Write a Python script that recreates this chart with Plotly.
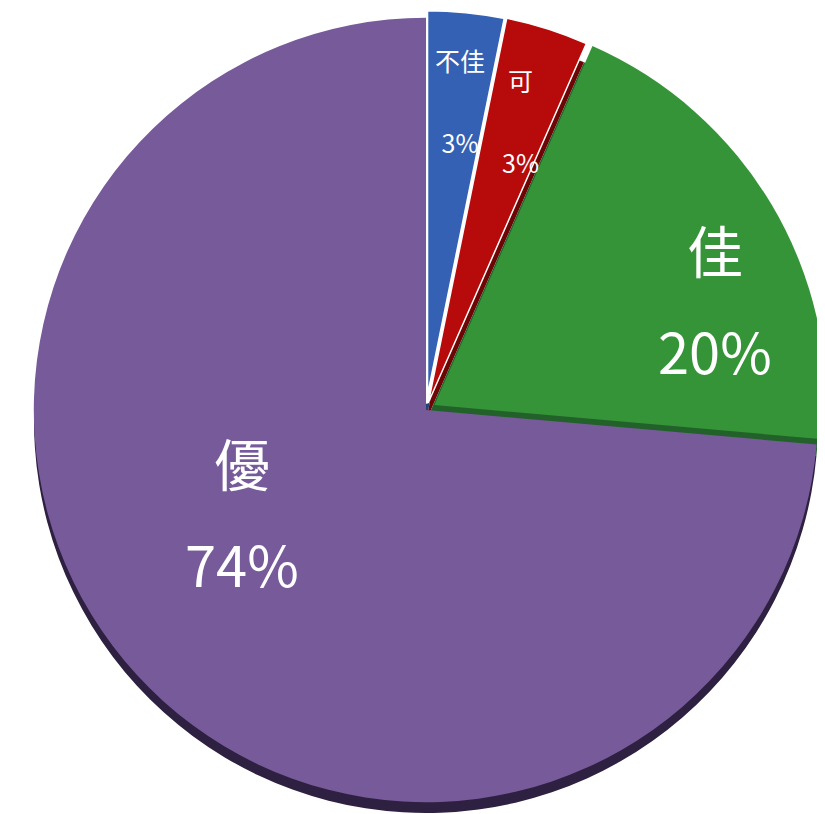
import math
import plotly.graph_objects as go

# ---- data ----
labels = ["不佳", "可", "佳", "優"]
values = [3.2, 3.4, 19.8, 73.6]

# ---- styles ----
colors = ["#3461B4", "#B70A0A", "#369438", "#775A9A"]
shadow_colors = ["#22407A", "#6E0606", "#22622A", "#2E2040"]
edge_widths = [3, 1.5, 0, 0]
pulls = [0.02, 0.02, 0.025, 0.0]
label_font = [25, 25, 56, 56]
label_line = [63, 63, 78, 78]
label_radius = [0.793, 0.775, 0.79, 0.537]
label_angle_shift = [0.5, 0.4, 9.6, 13.5]

W, H = 825, 814
FONT = "Noto Sans CJK TC, Noto Sans, sans-serif"

# main pie domain (pixels from top-left of the figure)
dom_left, dom_right = 16, 820
dom_top, dom_bottom = 0, 804
dom_x = [dom_left / W, dom_right / W]
dom_y = [1 - dom_bottom / H, 1 - dom_top / H]

# shadow pie domain: same size, shifted down for the 3D rim
sh_left, sh_right = 26, 810
sh_top, sh_bottom = 21, 805
shadow_dom_x = [sh_left / W, sh_right / W]
shadow_dom_y = [1 - sh_bottom / H, 1 - sh_top / H]

fig = go.Figure()

# shadow (3D rim) pie
fig.add_trace(go.Pie(
    labels=labels, values=values, sort=False, direction="clockwise", rotation=0,
    marker=dict(colors=shadow_colors, line=dict(color="rgba(0,0,0,0)", width=0)),
    textinfo="none", hoverinfo="skip", showlegend=False,
    domain=dict(x=shadow_dom_x, y=shadow_dom_y),
))

# main pie
fig.add_trace(go.Pie(
    labels=labels, values=values, sort=False, direction="clockwise", rotation=0,
    pull=pulls,
    marker=dict(colors=colors, line=dict(color="white", width=edge_widths)),
    textinfo="none", hoverinfo="label+percent", showlegend=False,
    domain=dict(x=dom_x, y=dom_y),
))

# labels placed along each slice's angle (derived from the values)
total = sum(values)
cx = (dom_left + dom_right) / 2
cy = (dom_top + dom_bottom) / 2
r = min(dom_right - dom_left, dom_bottom - dom_top) / (2 * (1 + max(pulls)))
cum = 0.0
for i, (lab, v) in enumerate(zip(labels, values)):
    mid = (cum + v / 2) / total * 360 + label_angle_shift[i]
    cum += v
    th = math.radians(mid)
    px = cx + label_radius[i] * r * math.sin(th)
    py = cy - label_radius[i] * r * math.cos(th)
    pct = f"{round(v / total * 100)}%"
    fs = label_font[i]
    txt = (f"<span style='font-size:{fs}px'>{lab}</span><br>"
           f"<span style='font-size:{fs}px'>{pct}</span>")
    fig.add_annotation(
        x=px / W, y=1 - py / H, xref="paper", yref="paper",
        text=txt, showarrow=False, xanchor="center", yanchor="middle",
        font=dict(family=FONT, size=label_line[i], color="white"),
    )

fig.update_layout(
    width=W, height=H,
    margin=dict(l=0, r=0, t=0, b=0),
    paper_bgcolor="white", plot_bgcolor="white",
    font=dict(family=FONT),
)

fig.write_html("out.html")
